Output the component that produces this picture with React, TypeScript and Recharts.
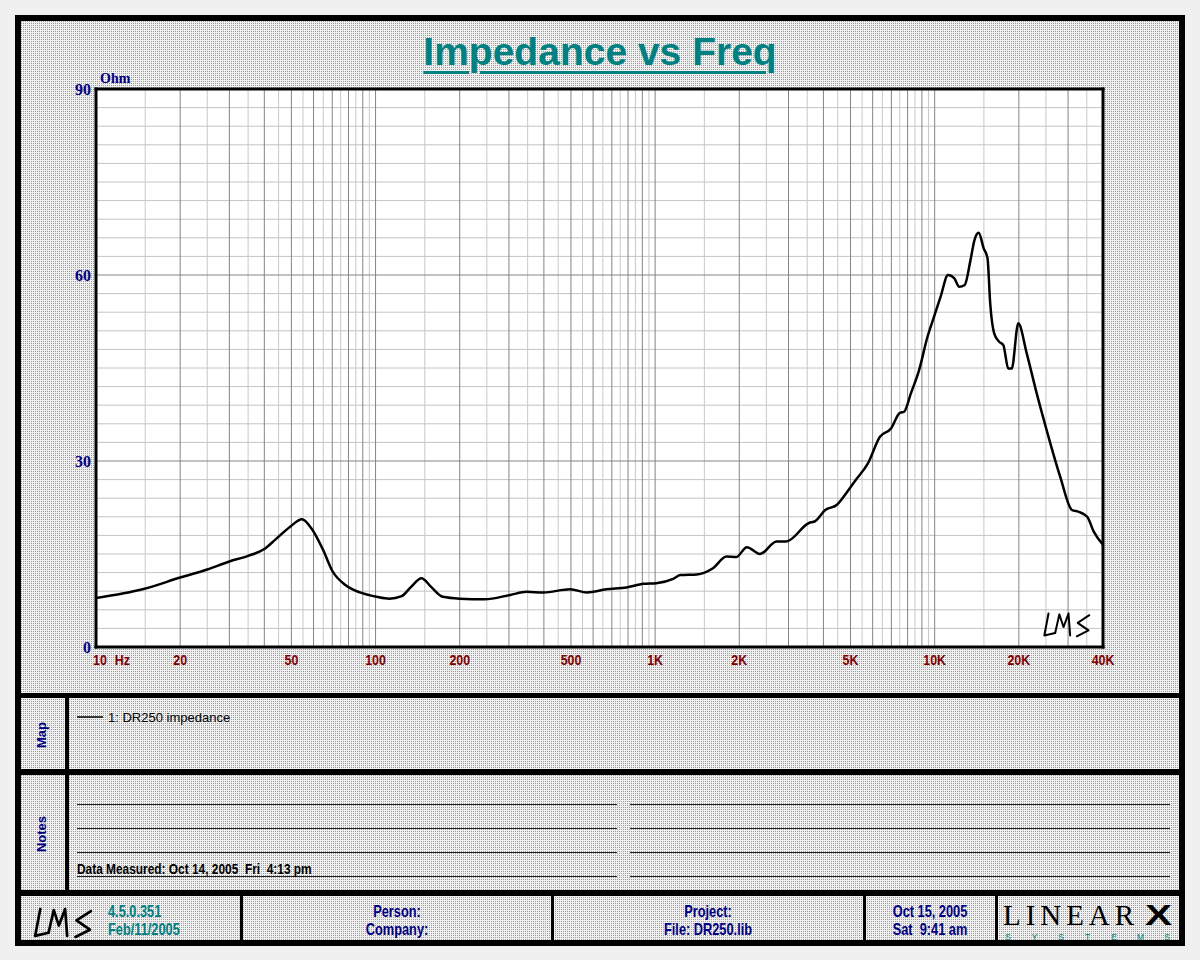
import React from "react";
import { LineChart, Line, XAxis, YAxis, ReferenceLine, ReferenceArea } from "recharts";

// impedance curve (Hz / Ohm)
const FREQ = [
  10, 14.8, 20, 25, 30, 35, 40, 44, 49.5, 54.5, 59, 65, 70, 78, 88, 101, 112, 124, 134, 146,
  158, 174, 200, 246, 303, 347, 398, 497, 570, 669, 790, 910, 1010, 1160, 1230, 1410, 1610,
  1800, 1950, 2130, 2370, 2720, 2940, 3550, 3740, 4060, 4460, 4860, 5210, 5770, 6370, 6990,
  7480, 7790, 8220, 8800, 9420, 9950, 10500, 11160, 11740, 12240, 12810, 13430, 13870, 14370,
  14970, 15450, 15800, 16320, 17040, 17600, 18340, 18860, 19910, 21330, 23170, 25140, 28100,
  30970, 32770, 35130, 37070, 40000,
];
const OHMS = [
  7.9, 9.35, 11.2, 12.5, 13.8, 14.7, 15.8, 17.4, 19.4, 20.6, 19.1, 15.6, 12.3, 10.0, 8.8, 8.1,
  7.8, 8.2, 9.7, 11.1, 9.7, 8.1, 7.8, 7.7, 8.4, 8.9, 8.8, 9.3, 8.8, 9.3, 9.6, 10.2, 10.3, 11.0,
  11.6, 11.7, 12.7, 14.6, 14.5, 16.1, 15.0, 17.0, 17.0, 20.0, 20.3, 22.1, 22.9, 25.0, 26.9,
  29.6, 33.9, 35.3, 37.7, 38.0, 40.9, 44.7, 50.0, 53.3, 56.5, 60.0, 59.5, 58.1, 58.4, 62.4,
  65.6, 66.8, 64.3, 62.7, 55.4, 50.6, 49.2, 48.7, 44.9, 44.9, 52.2, 47.4, 40.9, 35.0, 27.5,
  22.1, 21.8, 21.0, 18.6, 16.5,
];

const X_TICKS = [10, 20, 50, 100, 200, 500, 1000, 2000, 5000, 10000, 20000, 40000];
const X_LABELS = ["10", "20", "50", "100", "200", "500", "1K", "2K", "5K", "10K", "20K", "40K"];
const Y_TICKS = [0, 30, 60, 90];

const DECADES = [10, 100, 1000, 10000];
const MAJOR_MULT = [1, 2, 3, 4, 5, 6, 7, 8, 9];
const MINOR_MULT = [1.5, 2.5, 3.5, 4.5, 5.5, 6.5, 7.5, 8.5, 9.5];
const X_MAJOR = DECADES.flatMap((d) => MAJOR_MULT.map((m) => d * m)).filter((f) => f > 10 && f < 40000);
const X_MINOR = DECADES.flatMap((d) => MINOR_MULT.map((m) => d * m)).filter((f) => f < 40000);
const Y_MINOR = Array.from({ length: 29 }, (_, i) => (i + 1) * 3).filter((v) => v % 30 !== 0);
const Y_MAJOR = [30, 60];

const SANS = "'Liberation Sans', Arial, sans-serif";
const SERIF = "'Liberation Serif', 'Times New Roman', serif";

const NAVY = "#000080";
const TEAL = "#008080";
const MAROON = "#800000";

const STIPPLE =
  "url(\"data:image/svg+xml,%3Csvg xmlns='http://www.w3.org/2000/svg' width='2' height='2'%3E%3Crect width='2' height='2' fill='%23f0f0f0'/%3E%3Crect width='1' height='1' fill='%239c9c9c'/%3E%3C/svg%3E\")";

const data = FREQ.map((f, i) => ({ f, z: OHMS[i] }));

// bold Arial squeezed horizontally, stands in for Arial Narrow Bold
function Narrow({ x, y, size, color, scale = 0.8, anchor = "start", children }: any) {
  return (
    <text transform={`translate(${x},${y}) scale(${scale},1)`} textAnchor={anchor} dominantBaseline="central"
      style={{ fontFamily: SANS, fontWeight: 700, fontSize: size, fill: color, whiteSpace: "pre" }}>
      {children}
    </text>
  );
}

function XTick({ x, y, payload }: any) {
  if (payload.value === 10) {
    return (
      <Narrow x={x - 3} y={y + 12} size={15.5} color={MAROON}>
        <tspan>10</tspan>
        <tspan dx={10}>Hz</tspan>
      </Narrow>
    );
  }
  return (
    <Narrow x={x} y={y + 12} size={15.5} color={MAROON} anchor="middle">
      {X_LABELS[X_TICKS.indexOf(payload.value)]}
    </Narrow>
  );
}

function YTick({ x, y, payload }: any) {
  return (
    <text x={x - 5} y={y} textAnchor="end" dominantBaseline="central"
      style={{ fontFamily: SERIF, fontWeight: 700, fontSize: 16, fill: NAVY }}>
      {payload.value}
    </text>
  );
}

function ImpedanceChart() {
  return (
    <LineChart width={1200} height={700} data={data} margin={{ top: 89, right: 97, bottom: 23, left: 56 }}>
      <XAxis type="number" dataKey="f" scale="log" domain={[10, 40000]} ticks={X_TICKS} interval={0}
        allowDataOverflow axisLine={false} tickLine={false} tickSize={0} tickMargin={0} height={30} tick={<XTick />} />
      <YAxis type="number" domain={[0, 90]} ticks={Y_TICKS} interval={0} axisLine={false} tickLine={false}
        tickSize={0} tickMargin={0} width={40} tick={<YTick />} />
      <ReferenceArea x1={10} x2={40000} y1={0} y2={90} fill="#fff" fillOpacity={1} stroke="none" />
      {X_MINOR.map((f) => <ReferenceLine key={"xm" + f} x={f} stroke="#c8c8c8" strokeWidth={1} />)}
      {Y_MINOR.map((v) => <ReferenceLine key={"ym" + v} y={v} stroke="#c4c4c4" strokeWidth={1} />)}
      {X_MAJOR.map((f) => <ReferenceLine key={"xM" + f} x={f} stroke="#858585" strokeWidth={1} />)}
      {Y_MAJOR.map((v) => <ReferenceLine key={"yM" + v} y={v} stroke="#858585" strokeWidth={1} />)}
      <Line type="monotone" dataKey="z" stroke="#000" strokeWidth={2.5} dot={false} isAnimationActive={false} />
      <ReferenceLine x={10} stroke="#000" strokeWidth={3} strokeLinecap="square" />
      <ReferenceLine x={40000} stroke="#000" strokeWidth={3} strokeLinecap="square" />
      <ReferenceLine y={0} stroke="#000" strokeWidth={3} strokeLinecap="square" />
      <ReferenceLine y={90} stroke="#000" strokeWidth={3} strokeLinecap="square" />
    </LineChart>
  );
}

function Rule({ left, top, width, height }: { left: number; top: number; width: number; height: number }) {
  return <div style={{ position: "absolute", left, top, width, height, background: "#000" }} />;
}

// hand-written "LMS" signature, drawn in a 60x32 box
function LmsLogo({ x, y, w, h, sw }: { x: number; y: number; w: number; h: number; sw: number }) {
  return (
    <g transform={`translate(${x},${y}) scale(${w / 60},${h / 32})`} fill="none" stroke="#000"
      strokeWidth={sw} strokeLinecap="round" strokeLinejoin="round">
      <path d="M9 3 L4 29 L17 26" />
      <path d="M17 26 L22 4 L27 19 L33 3 L35 29" />
      <path d="M58 5 L44 14 L57 23 L43 30" />
    </g>
  );
}

function Decorations() {
  const noteRows = [804, 828, 852, 876];
  return (
    <svg width={1200} height={960} style={{ position: "absolute", left: 0, top: 0, pointerEvents: "none" }}>
      <text x={100} y={83} style={{ fontFamily: SERIF, fontWeight: 700, fontSize: 14, fill: NAVY }}>Ohm</text>
      <LmsLogo x={1041} y={611} w={50} h={27} sw={2.4} />

      <text transform="translate(41,735) rotate(-90)" textAnchor="middle" dominantBaseline="central"
        style={{ fontFamily: SANS, fontWeight: 700, fontSize: 13, fill: NAVY }}>Map</text>
      <line x1={77} x2={103} y1={717} y2={717} stroke="#000" strokeWidth={1.5} />
      <text x={108} y={717} dominantBaseline="central" style={{ fontFamily: SANS, fontSize: 13, fill: "#000" }}>
        1: DR250 impedance
      </text>

      <text transform="translate(41,834) rotate(-90)" textAnchor="middle" dominantBaseline="central"
        style={{ fontFamily: SANS, fontWeight: 700, fontSize: 13, fill: NAVY }}>Notes</text>
      {noteRows.map((r) => (
        <g key={r}>
          <line x1={77} x2={617} y1={r + 0.5} y2={r + 0.5} stroke="#222" strokeWidth={1} />
          <line x1={630} x2={1170} y1={r + 0.5} y2={r + 0.5} stroke="#222" strokeWidth={1} />
        </g>
      ))}
      <Narrow x={77} y={869} size={14} color="#000" scale={0.85}>Data Measured: Oct 14, 2005  Fri  4:13 pm</Narrow>

      <LmsLogo x={31} y={906} w={62} h={33} sw={2.6} />
      <Narrow x={108} y={911} size={16} color={TEAL}>4.5.0.351</Narrow>
      <Narrow x={108} y={929} size={16} color={TEAL}>Feb/11/2005</Narrow>
      <Narrow x={397} y={911} size={16} color={NAVY} anchor="middle">Person:</Narrow>
      <Narrow x={397} y={929} size={16} color={NAVY} anchor="middle">Company:</Narrow>
      <Narrow x={708} y={911} size={16} color={NAVY} anchor="middle">Project:</Narrow>
      <Narrow x={708} y={929} size={16} color={NAVY} anchor="middle">File: DR250.lib</Narrow>
      <Narrow x={930} y={911} size={16} color={NAVY} anchor="middle">Oct 15, 2005</Narrow>
      <Narrow x={930} y={929} size={16} color={NAVY} anchor="middle">Sat  9:41 am</Narrow>

      <text x={1003} y={925} textLength={131} lengthAdjust="spacing"
        style={{ fontFamily: SERIF, fontSize: 29, fontWeight: 400, fill: "#000" }}>LINEAR</text>
      <text x={1145} y={925} textLength={27} lengthAdjust="spacingAndGlyphs"
        style={{ fontFamily: SANS, fontSize: 29, fontWeight: 900, fill: "#000" }}>X</text>
      {"SYSTEMS".split("").map((c, i) => (
        <text key={i} x={1008 + i * 26.5} y={937} textAnchor="middle" dominantBaseline="central"
          style={{ fontFamily: SANS, fontSize: 8.5, fill: TEAL }}>{c}</text>
      ))}
    </svg>
  );
}

export default function App() {
  return (
    <div style={{ position: "absolute", left: 0, top: 0, width: 1200, height: 960, background: "#f0f0f0", overflow: "hidden" }}>
      <div style={{ position: "absolute", left: 15, top: 15, width: 1170, height: 931, boxSizing: "border-box",
        border: "6px solid #000", backgroundImage: STIPPLE }} />
      <Rule left={15} top={693} width={1170} height={5} />
      <Rule left={15} top={769} width={1170} height={6} />
      <Rule left={15} top={890} width={1170} height={6} />
      <Rule left={65} top={698} width={4} height={192} />
      <Rule left={240} top={896} width={3} height={44} />
      <Rule left={551} top={896} width={3} height={44} />
      <Rule left={863} top={896} width={3} height={44} />
      <Rule left={995} top={896} width={3} height={44} />

      <div style={{ position: "absolute", left: 0, top: 33, width: 1200, textAlign: "center", fontFamily: SANS,
        fontSize: 39, lineHeight: "38px", fontWeight: 700, color: TEAL, textDecoration: "underline",
        textDecorationThickness: 3, textUnderlineOffset: 6 }}>
        Impedance vs Freq
      </div>

      <div style={{ position: "absolute", left: 0, top: 0 }}>
        <ImpedanceChart />
      </div>
      <Decorations />
    </div>
  );
}
